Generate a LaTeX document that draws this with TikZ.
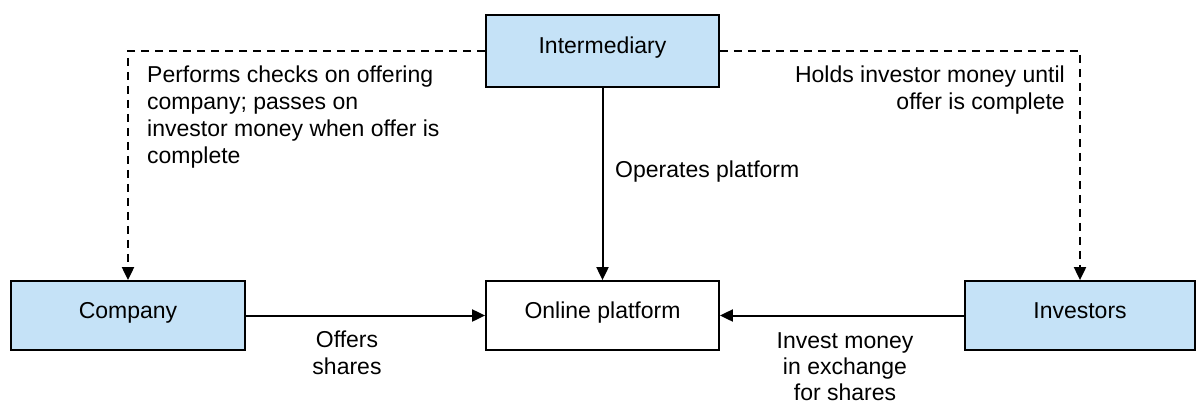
\documentclass[tikz,border=0pt]{standalone}
\usepackage{fontspec}
\setmainfont{Liberation Sans}
\usetikzlibrary{arrows.meta}
\definecolor{boxblue}{RGB}{197,226,247}
\begin{document}
\begin{tikzpicture}[x=1pt,y=-1pt,
  every node/.style={font=\fontsize{23}{27}\selectfont},
  box/.style={draw=black, line width=1.8pt, minimum height=69pt, inner sep=0pt, text height=16pt, text depth=11pt},
  bluebox/.style={box, fill=boxblue},
  conn/.style={line width=2pt, -{Triangle[length=13pt,width=12pt]}},
  dconn/.style={conn, dash pattern=on 8pt off 6pt},
  lbl/.style={inner sep=0pt}
]
\useasboundingbox (0,0) rectangle (1196,405);
\node[bluebox, minimum width=233pt, minimum height=72pt] (inter) at (602.5,51) {Intermediary};
\node[box, fill=white, minimum width=233pt] (online) at (602.5,315.5) {Online platform};
\node[bluebox, minimum width=234pt] (company) at (128,315.5) {Company};
\node[bluebox, minimum width=230pt] (investors) at (1080,315.5) {Investors};
\coordinate (lc) at (128,51);
\coordinate (rc) at (1080,51);
\draw[conn] (company.east) -- (online.west);
\draw[conn] (investors.west) -- (online.east);
\draw[conn] (inter.south) -- (online.north);
\draw[dconn] (inter.west) -- (lc) -- (company.north);
\draw[dconn] (inter.east) -- (rc) -- (investors.north);
\node[lbl, anchor=north west, align=left] (lbl1) at (147,66) {Performs checks on offering\\company; passes on\\investor money when offer is\\complete};
\node[lbl, anchor=north east, align=right] (lbl2) at (1065,66) {Holds investor money until\\offer is complete};
\node[lbl, anchor=west] (lbl3) at (615,172) {Operates platform};
\node[lbl, anchor=north, align=center] (lbl4) at (347,331) {Offers\\shares};
\node[lbl, anchor=north, align=center, font=\fontsize{23}{26}\selectfont] (lbl5) at (845,332) {Invest money\\in exchange\\for shares};
\end{tikzpicture}
\end{document}
